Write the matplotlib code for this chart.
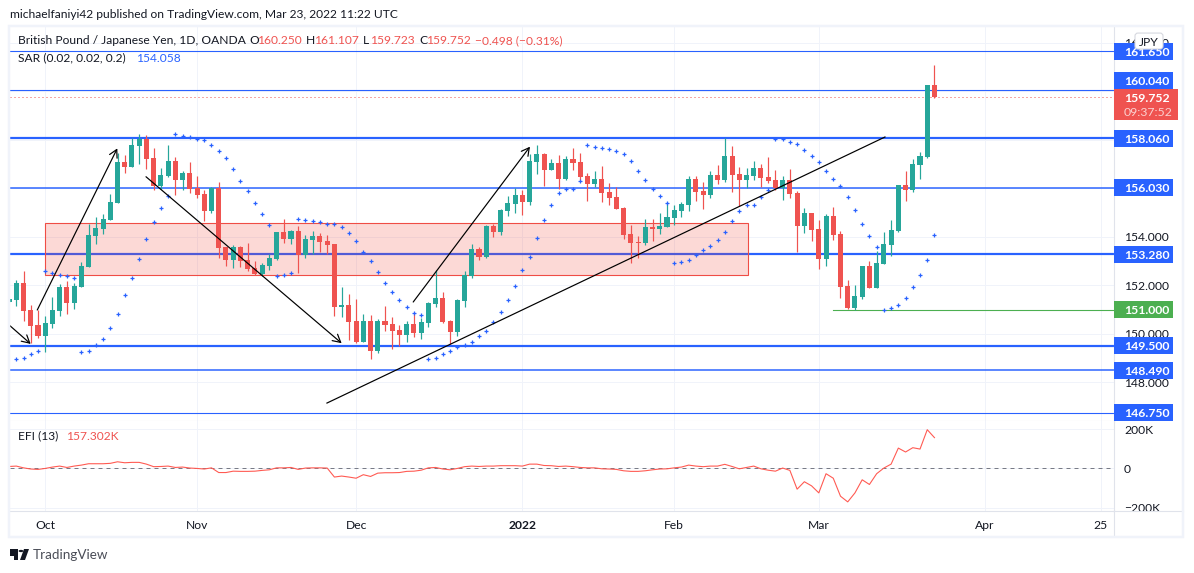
import numpy as np
import matplotlib
matplotlib.use("Agg")
import matplotlib.pyplot as plt
from matplotlib.patches import Rectangle, FancyBboxPatch, Polygon, Circle

W, H = 1194, 573
plt.rcParams["font.family"] = ["Lato", "DejaVu Sans"]

# bars, first one is cut by the left edge
opens = [
    151.31,
    151.39, 152.09, 150.98, 150.36, 149.91, 150.40, 150.94, 151.93, 151.27, 151.93,
    152.75, 154.03, 154.32, 154.69, 155.40, 157.09, 156.88, 157.75, 158.04, 157.25,
    156.10, 156.51, 157.13, 156.35, 156.63, 156.01, 155.77, 155.06, 156.01, 153.58,
    153.04, 153.58, 153.04, 152.71, 152.46, 152.79, 153.08, 154.20, 153.91, 154.24,
    153.25, 153.87, 154.03, 153.83, 153.70, 151.10, 151.19, 150.53, 149.66, 150.53,
    149.29, 150.53, 150.40, 150.15, 149.95, 150.40, 150.03, 150.44, 151.23, 151.47,
    150.53, 150.07, 151.35, 152.38, 153.50, 153.17, 154.45, 154.20, 155.06, 155.35,
    155.73, 155.44, 157.09, 157.42, 156.76, 157.05, 156.39, 157.21, 157.09, 156.51,
    156.18, 156.39, 155.85, 155.64, 155.19, 154.12, 153.78, 153.74, 154.41, 154.32,
    154.41, 154.78, 155.06, 155.31, 156.39, 155.89, 155.73, 156.55, 156.35, 157.34,
    156.59, 156.35, 156.51, 156.84, 156.47, 156.35, 156.01, 156.35, 155.81, 154.45,
    154.98, 154.32, 153.08, 154.86, 154.12, 151.97, 151.06, 151.52, 152.79, 151.89,
    152.88, 153.66, 154.24, 156.14, 155.93, 156.96, 157.30, 160.25,
]
highs = [
    151.45,
    152.22, 152.59, 151.17, 150.98, 150.73, 151.52, 152.05, 152.18, 152.11, 152.96,
    154.53, 154.82, 154.94, 155.77, 157.45, 157.38, 158.06, 158.24, 158.20, 157.67,
    156.84, 157.79, 157.30, 156.72, 157.09, 156.51, 155.93, 156.06, 156.26, 153.60,
    153.66, 153.62, 153.74, 153.00, 152.92, 153.29, 154.20, 154.73, 154.28, 154.45,
    154.07, 154.24, 154.16, 154.07, 153.70, 151.93, 151.64, 151.43, 150.81, 150.77,
    150.61, 151.14, 150.69, 150.36, 150.53, 150.90, 150.65, 151.31, 152.63, 151.72,
    150.57, 151.43, 152.59, 153.70, 153.58, 154.49, 154.53, 155.15, 155.68, 156.01,
    155.93, 157.42, 157.79, 157.46, 157.21, 157.38, 157.34, 157.67, 157.46, 156.63,
    156.72, 156.92, 156.22, 156.06, 155.23, 154.49, 154.03, 154.73, 154.73, 154.98,
    155.44, 155.31, 155.44, 156.51, 156.51, 156.26, 156.72, 156.96, 158.06, 157.75,
    156.88, 156.84, 157.13, 157.00, 157.30, 156.76, 156.51, 156.80, 155.89, 155.19,
    154.98, 154.69, 154.94, 155.23, 154.24, 152.22, 152.01, 152.79, 153.00, 153.41,
    154.20, 154.69, 156.14, 156.72, 157.21, 157.50, 160.26, 161.107,
]
lows = [
    151.30,
    151.16, 150.54, 149.60, 149.82, 149.26, 150.24, 150.74, 150.81, 151.02, 151.93,
    152.75, 153.70, 154.12, 154.69, 155.40, 156.63, 156.88, 157.00, 156.80, 155.93,
    155.97, 156.46, 155.73, 155.93, 155.81, 155.60, 154.65, 154.98, 153.12, 152.79,
    152.71, 152.75, 152.59, 152.42, 152.38, 152.63, 153.04, 153.74, 153.70, 152.51,
    153.12, 153.29, 153.37, 153.29, 150.73, 150.69, 149.74, 149.62, 149.66, 148.96,
    149.20, 150.11, 149.37, 149.49, 149.66, 149.86, 149.78, 150.28, 151.10, 150.44,
    149.58, 149.91, 151.10, 152.30, 153.04, 153.12, 153.99, 154.07, 154.86, 154.98,
    154.90, 155.31, 156.59, 156.10, 156.76, 155.97, 156.35, 156.76, 156.26, 155.48,
    156.06, 155.45, 155.31, 155.15, 153.91, 152.92, 153.12, 153.66, 153.83, 154.12,
    154.41, 154.49, 154.82, 155.06, 155.48, 155.15, 155.60, 156.18, 156.26, 155.85,
    155.27, 156.00, 156.35, 156.06, 156.22, 155.93, 155.52, 155.60, 153.37, 154.16,
    153.83, 152.67, 152.79, 153.87, 151.47, 151.02, 150.98, 151.43, 151.89, 151.89,
    152.88, 153.21, 154.20, 155.48, 155.85, 156.39, 157.25, 159.723,
]
closes = [
    151.43,
    152.09, 150.95, 150.33, 149.91, 150.44, 150.98, 151.93, 151.27, 151.97, 152.79,
    154.07, 154.36, 154.73, 155.44, 157.09, 156.88, 157.79, 158.04, 157.21, 156.10,
    156.55, 157.13, 156.35, 156.63, 155.97, 155.73, 155.06, 156.01, 153.54, 153.04,
    153.58, 153.00, 152.67, 152.46, 152.84, 153.12, 154.20, 153.91, 154.24, 153.25,
    153.91, 154.03, 153.78, 153.66, 151.10, 151.19, 150.49, 149.66, 150.53, 149.29,
    150.53, 150.36, 150.11, 149.95, 150.40, 150.03, 150.49, 151.27, 151.47, 150.49,
    150.07, 151.39, 152.42, 153.50, 153.17, 154.45, 154.20, 155.11, 155.40, 155.73,
    155.44, 157.13, 157.42, 156.76, 157.05, 156.39, 157.21, 157.05, 156.47, 156.18,
    156.39, 155.81, 155.60, 155.15, 154.07, 153.74, 153.74, 154.41, 154.32, 154.45,
    154.82, 155.11, 155.35, 156.39, 155.85, 155.73, 156.55, 156.35, 157.34, 156.55,
    156.35, 156.55, 156.84, 156.43, 156.30, 156.01, 156.35, 155.77, 154.45, 154.98,
    154.28, 153.08, 154.86, 154.07, 151.93, 151.06, 151.56, 152.79, 151.89, 152.92,
    153.70, 154.28, 156.14, 155.93, 157.00, 157.34, 160.25, 159.752,
]
sar = [
    np.nan,
    148.94, 149.02, 149.15, 149.27, 152.59, 152.49, 152.42, 152.37, 152.29, 149.23,
    149.27, 149.53, 149.80, 150.22, 150.80, 151.58, 152.29, 153.07, 153.90, 154.60,
    155.17, 155.67, 158.23, 158.15, 158.13, 158.04, 157.98, 157.77, 157.55, 157.24,
    156.78, 156.29, 155.88, 155.38, 154.93, 154.47, 152.37, 152.42, 152.49, 154.72,
    154.68, 154.64, 154.60, 154.55, 154.51, 154.39, 154.14, 153.81, 153.36, 152.99,
    152.53, 152.08, 151.71, 151.38, 151.09, 150.85, 150.76, 148.94, 149.02, 149.15,
    149.27, 149.44, 149.52, 149.64, 149.89, 150.10, 150.48, 150.88, 151.38, 151.98,
    152.62, 153.15, 153.94, 154.68, 155.30, 155.79, 155.96, 155.96, 156.29, 157.77,
    157.69, 157.65, 157.61, 157.53, 157.40, 157.11, 156.70, 156.33, 155.96, 155.67,
    155.38, 152.90, 152.95, 153.03, 153.23, 153.44, 153.61, 153.85, 154.18, 154.64,
    155.05, 155.30, 155.30, 155.63, 155.92, 158.04, 158.02, 157.90, 157.82, 157.57,
    157.32, 157.07, 156.70, 156.37, 156.08, 155.63, 155.09, 154.51, 154.02, 153.57,
    150.96, 151.05, 151.17, 151.46, 151.91, 152.41, 153.03, 154.058,
]
# in thousands
efi = [
    10, 12, 3, -3, -5, 0, 7, 12, 5, 12, 17, 24, 24, 24, 26, 34, 29, 31, 31, 22,
    9, 10, 12, 5, 7, 2, 0, -3, 3, -21, -21, -14, -15, -15, -14, -10, -7, 3, 3, 5,
    -5, 2, 3, 3, 2, -44, -39, -44, -50, -32, -41, -24, -22, -22, -21, -15, -14, -9, 3, 5,
    -3, -7, 0, 9, 12, 10, 12, 12, 14, 14, 14, 12, 22, 22, 15, 14, 10, 12, 9, 5,
    3, 3, -2, -3, -5, -12, -15, -15, -12, -7, -3, -2, 3, 7, 17, 12, 9, 12, 12, 21,
    10, -2, 5, 12, -2, -9, -14, 2, -10, -106, -68, -89, -125, -27, -50, -142, -171, -125, -58, -82,
    -27, 2, 22, 104, 84, 106, 99, 198, 157.302,
]

thick_levels = [158.06, 153.28, 149.5]
mid_levels = [156.03, 148.49]
thin_levels = [161.65, 160.04, 146.75]
level_labels = ["161.650", "160.040", "158.060", "156.030", "153.280", "149.500", "148.490", "146.750"]
label_prices = [161.65, 160.45, 158.06, 156.03, 153.28, 149.5, 148.49, 146.75]
support = 151.0
last_close = 159.752

zone_x = [5.0, 102.2]
zone_prices = [152.41, 154.56]
# (start bar, start price, end bar, end price)
arrows = [
    (0.13, 150.33, 2.99, 149.58),
    (3.9, 150.98, 14.97, 157.65),
    (18.94, 156.48, 46.0, 149.61),
    (55.9, 151.31, 72.05, 157.72),
]
trend_x = [43.97, 121.15]
trend_y = [147.14, 158.12]
support_start = 113.96

month_ticks = [5, 26, 48, 71, 92, 112, 135, 151]
month_labels = ["Oct", "Nov", "Dec", "2022", "Feb", "Mar", "Apr", "25"]
price_ticks = [162, 160, 158, 156, 154, 152, 150, 148]
# 160, 158 and 156 sit under the badges in the picture
price_tick_labels = ["162.000", "", "", "", "154.000", "152.000", "150.000", "148.000"]
efi_ticks = [200, 0, -200]
efi_tick_labels = ["200K", "0", "\u2212200K"]

GREEN, RED, BLUE = "#26a69a", "#ef5350", "#2962ff"
GRID, BORDER, TEXT = "#f0f3fa", "#e0e3eb", "#131722"
PX = 0.72


def box(left, top, right, bottom):
    return [left / W, 1 - bottom / H, (right - left) / W, (bottom - top) / H]


def ftext(x, y, s, **kw):
    kw.setdefault("fontsize", 8.65)
    kw.setdefault("color", TEXT)
    fig.text(x / W, 1 - y / H, s, va="center", **kw)


fig = plt.figure(figsize=(W / 100, H / 100), dpi=100)

ax = fig.add_axes(box(10, 27, 1114, 420.5))
ax_efi = fig.add_axes(box(10, 420.5, 1114, 510.5), sharex=ax)
ax_labels = fig.add_axes(box(1114, 27, 1183, 420.5), zorder=5)
ax_corner = fig.add_axes(box(1114, 510.5, 1183, 535), zorder=6)

bars = np.arange(len(opens))
opens, highs, lows, closes = map(np.array, (opens, highs, lows, closes))
colors = np.where(closes >= opens, GREEN, RED)

# candles
ax.vlines(bars, lows, highs, colors=colors, linewidth=1.2 * PX, zorder=5)
ax.bar(bars, np.abs(closes - opens), bottom=np.minimum(opens, closes), width=0.7, color=colors, linewidth=0, zorder=6)
ax.plot(bars, sar, "+", color=BLUE, markersize=3.2, markeredgewidth=0.9, zorder=7)

for lv in thick_levels:
    ax.axhline(lv, color=BLUE, linewidth=2.2 * PX, zorder=2)
for lv in mid_levels:
    ax.axhline(lv, color=BLUE, linewidth=1.5 * PX, zorder=2)
for lv in thin_levels:
    ax.axhline(lv, color=BLUE, linewidth=1.1 * PX, zorder=2)
ax.axhline(last_close, color=RED, linewidth=1 * PX, linestyle=(0, (1, 3)), zorder=2)
ax.plot([support_start, 160], [support, support], color="#4caf50", linewidth=1.1 * PX, zorder=3)

ax.add_patch(Rectangle((zone_x[0], zone_prices[0]), zone_x[1] - zone_x[0], zone_prices[1] - zone_prices[0],
                       facecolor=(0.957, 0.263, 0.212, 0.2), edgecolor="#ef4d45", linewidth=1.1 * PX, zorder=4))

ax.plot(trend_x, trend_y, color="black", linewidth=1.2 * PX, zorder=8)
for x0, y0, x1, y1 in arrows:
    ax.annotate("", xy=(x1, y1), xytext=(x0, y0), zorder=8,
                arrowprops=dict(arrowstyle="->,head_length=0.55,head_width=0.3", color="black",
                                linewidth=1.2 * PX, shrinkA=0, shrinkB=0))

ax.set_xlim(0.13, 152.83)
ax.set_ylim(146.42, 162.66)
ax.set_xticks(month_ticks)
ax.set_yticks(price_ticks)
ax.set_yticklabels(price_tick_labels)
ax.grid(True, color=GRID, linewidth=1 * PX, zorder=0)
ax.set_axisbelow(True)
ax.tick_params(length=0, labelbottom=False, labelleft=False, labelright=True, right=False, left=False, pad=7.2,
               labelsize=8.7, labelcolor=TEXT)

# efi pane
ax_efi.plot(bars, efi, color="#ff5a52", linewidth=1.1 * PX, zorder=3)
ax_efi.axhline(0, color="#787b86", linewidth=1 * PX, linestyle=(0, (4, 4)), zorder=2)
ax_efi.set_ylim(-215, 245)
ax_efi.set_yticks(efi_ticks)
ax_efi.set_yticklabels(efi_tick_labels)
ax_efi.set_xticks(month_ticks)
ax_efi.set_xticklabels(month_labels)
ax_efi.get_xticklabels()[3].set_fontweight("bold")
ax_efi.grid(True, color=GRID, linewidth=1 * PX, zorder=0)
ax_efi.set_axisbelow(True)
ax_efi.tick_params(axis="y", length=0, labelleft=False, labelright=True, right=False, left=False, pad=7.2,
                   labelsize=8.7, labelcolor=TEXT)
ax_efi.tick_params(axis="x", length=0, pad=7, labelsize=8.7, labelcolor=TEXT)

for a in (ax, ax_efi):
    for side in a.spines:
        a.spines[side].set_visible(False)
    a.spines["right"].set_visible(True)
    a.spines["right"].set_color(BORDER)
    a.spines["bottom"].set_visible(True)
    a.spines["bottom"].set_color(BORDER)

# level badges on the price scale
ax_labels.set_xlim(1114, 1183)
ax_labels.set_ylim(ax.get_ylim())
ax_labels.patch.set_alpha(0)
ax_labels.axis("off")
px_h = 17 / 24.23
ax_labels.barh(label_prices, 59, height=px_h, left=1114, color=BLUE, zorder=2)
for y, s in zip(label_prices, level_labels):
    ax_labels.text(1124, y, s, color="white", fontsize=8.8, fontweight="bold", va="center_baseline", zorder=3)
ax_labels.barh([support], 59, height=px_h, left=1114, color="#4caf50", zorder=2)
ax_labels.text(1124, support, "151.000", color="white", fontsize=8.8, fontweight="bold", va="center_baseline", zorder=3)
ax_labels.barh([159.46], 64, height=31 / 24.23, left=1114, color=RED, zorder=4)
ax_labels.text(1124, 159.752, "159.752", color="white", fontsize=8.8, fontweight="bold", va="center_baseline", zorder=5)
ax_labels.text(1124, 159.17, "09:37:52", color="#fbd0cf", fontsize=8.8, va="center_baseline", zorder=5)
ax_labels.add_patch(FancyBboxPatch((1135, 161.75), 28, 0.66, boxstyle="round,pad=0,rounding_size=3",
                                   mutation_aspect=0.04, facecolor="white", edgecolor="#d6d8df", linewidth=0.8,
                                   zorder=6))
ax_labels.text(1149, 162.08, "JPY", color=TEXT, fontsize=8.7, ha="center", va="center_baseline", zorder=7)

ax_corner.set_xticks([])
ax_corner.set_yticks([])
for side in ax_corner.spines:
    ax_corner.spines[side].set_visible(False)
ax_corner.spines["top"].set_visible(True)
ax_corner.spines["top"].set_color(BORDER)
ax_corner.spines["left"].set_visible(True)
ax_corner.spines["left"].set_color(BORDER)

fig.add_artist(Rectangle((9 / W, 1 - 537 / H), 1174 / W, 511 / H, fill=False, edgecolor=GRID, linewidth=2.5 * PX,
                         transform=fig.transFigure, zorder=10))

# header + legends
ftext(10, 15, "michaelfaniyi42 published on TradingView.com, Mar 23, 2022 11:22 UTC")
ftext(18, 41, "British Pound / Japanese Yen, 1D, OANDA")
for x, s, c in [(249, "O", TEXT), (258, "160.250", RED), (306, "H", TEXT), (315, "161.107", RED), (363, "L", TEXT),
                (371, "159.723", RED), (419, "C", TEXT), (427, "159.752", RED), (475, "\u22120.498 (\u22120.31%)", RED)]:
    ftext(x, 41, s, color=c)
ftext(18, 58, "SAR (0.02, 0.02, 0.2)")
ftext(137, 58, "154.058", color=BLUE)
ftext(18, 436, "EFI (13)")
ftext(67, 436, "157.302K", color=RED)

# logo
logo = [Rectangle((10 / W, 1 - 556 / H), 8 / W, 7 / H), Circle((21 / W, 1 - 551 / H), 0.002),
        Polygon([(24 / W, 1 - 549 / H), (29 / W, 1 - 549 / H), (25 / W, 1 - 560 / H), (20 / W, 1 - 560 / H)]),
        Rectangle((14 / W, 1 - 560 / H), 4 / W, 11 / H)]
for shape in logo:
    shape.set_transform(fig.transFigure)
    shape.set_facecolor("#131722")
    shape.set_edgecolor("none")
    fig.add_artist(shape)
ftext(33, 555, "TradingView", fontsize=9.7, color="#4a4d57")

fig.savefig("out.png", dpi=100)
